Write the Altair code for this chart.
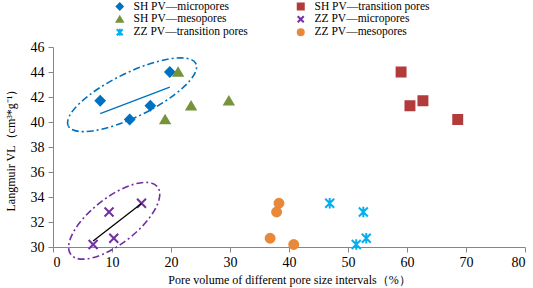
import altair as alt
import pandas as pd

# ---- data ----
series_names = [
    "SH PV—micropores", "SH PV—transition pores",
    "SH PV—mesopores", "ZZ PV—micropores",
    "ZZ PV—transition pores", "ZZ PV—mesopores",
]
series_colors = ["#0070C0", "#B23B3B", "#77933C", "#7030A0", "#00B0F0", "#E8883A"]

sh_y = [44.0, 41.7, 41.3, 40.2]
zz_y = [33.5, 32.8, 30.7, 30.2]

sh_micro_x = [19.8, 8.0, 16.5, 13.0]
sh_trans_x = [59.0, 62.7, 60.5, 68.6]
sh_meso_x = [21.2, 29.8, 23.4, 19.0]
zz_micro_x = [15.0, 9.5, 10.3, 6.8]
zz_trans_x = [46.9, 52.6, 53.1, 51.4]
zz_meso_x = [38.3, 37.9, 36.8, 40.8]

x_ticks = [0, 10, 20, 30, 40, 50, 60, 70, 80]
y_ticks = [30, 32, 34, 36, 38, 40, 42, 44, 46]

# ellipse annotation centres (data units)
blue_ellipse_x = [13.4]
blue_ellipse_y = [42.18]
purple_ellipse_x = [10.37]
purple_ellipse_y = [32.1]

rows = []
for name, xs, ys in [
    (series_names[0], sh_micro_x, sh_y),
    (series_names[1], sh_trans_x, sh_y),
    (series_names[2], sh_meso_x, sh_y),
    (series_names[3], zz_micro_x, zz_y),
    (series_names[4], zz_trans_x, zz_y),
    (series_names[5], zz_meso_x, zz_y),
]:
    for xv, yv in zip(xs, ys):
        rows.append({"series": name, "pv": xv, "vl": yv})
df = pd.DataFrame(rows)

FONT = "Liberation Serif"

xscale = alt.Scale(domain=[0, 80], nice=False, zero=False)
yscale = alt.Scale(domain=[30, 46], nice=False, zero=False)
x_axis = alt.Axis(values=x_ticks, labelOverlap=False, labelFont=FONT,
                  title="Pore volume of different pore size intervals（%）")
y_axis = alt.Axis(values=y_ticks, labelOverlap=False, labelFont=FONT,
                  title="Langmuir VL（cm³*g⁻¹）")


def X():
    return alt.X("pv:Q", scale=xscale, axis=x_axis)


def Y():
    return alt.Y("vl:Q", scale=yscale, axis=y_axis)


x_shape = "M-1,-1L1,1M-1,1L1,-1"
star_shape = "M-1,-1L1,1M-1,1L1,-1M0,-1.15L0,1.15"
shape_of = dict(zip(series_names, ["diamond", "square", "triangle-up", x_shape, star_shape, "circle"]))
color_of = dict(zip(series_names, series_colors))

# legend fills column by column: order so that rows read as in the reference
legend_order = [series_names[i] for i in (0, 2, 4, 1, 3, 5)]
color_scale = alt.Scale(domain=legend_order, range=[color_of[s] for s in legend_order])
shape_scale = alt.Scale(domain=legend_order, range=[shape_of[s] for s in legend_order])

points = alt.Chart(df).mark_point(filled=False, strokeWidth=2, opacity=1, size=80).encode(
    x=X(), y=Y(),
    fill=alt.Fill("series:N", scale=color_scale, legend=alt.Legend(
        title=None, orient="none", legendX=61, legendY=-47, columns=2,
        columnPadding=47, rowPadding=0, clipHeight=12.5, symbolSize=36,
        symbolStrokeWidth=2,
        labelFont=FONT, labelFontSize=11.5, labelColor="black", labelOffset=8,
        padding=0)),
    stroke=alt.Stroke("series:N", scale=color_scale),
    shape=alt.Shape("series:N", scale=shape_scale),
)

blue_trend = alt.Chart(df).transform_filter(
    alt.datum.series == series_names[0]
).transform_regression("pv", "vl").mark_line(color="#0070C0", strokeWidth=1.3).encode(
    x=X(), y=Y())

black_trend = alt.Chart(df).transform_filter(
    alt.datum.series == series_names[3]
).transform_regression("pv", "vl").mark_line(color="black", strokeWidth=1.3).encode(
    x=X(), y=Y())


def ellipse_path(r):
    k = 0.5523
    kr = k * r
    return (f"M-1,0C-1,{-kr:.4f} {-k},{-r:.4f} 0,{-r:.4f}"
            f"C{k},{-r:.4f} 1,{-kr:.4f} 1,0"
            f"C1,{kr:.4f} {k},{r:.4f} 0,{r:.4f}"
            f"C{-k},{r:.4f} -1,{kr:.4f} -1,0Z")


blue_ell = alt.Chart(pd.DataFrame({"pv": blue_ellipse_x, "vl": blue_ellipse_y})).mark_point(
    shape=ellipse_path(22 / 71), size=142 ** 2, angle=334, filled=False,
    color="#0070C0", strokeWidth=1.6, strokeDash=[7, 3, 2, 3], opacity=1
).encode(x=X(), y=Y())

purple_ell = alt.Chart(pd.DataFrame({"pv": purple_ellipse_x, "vl": purple_ellipse_y})).mark_point(
    shape=ellipse_path(23 / 55), size=110 ** 2, angle=322, filled=False,
    color="#7030A0", strokeWidth=1.6, strokeDash=[7, 3, 2, 3], opacity=1
).encode(x=X(), y=Y())

chart = alt.layer(points, blue_ell, purple_ell, blue_trend, black_trend).properties(
    width=472, height=200,
    autosize=alt.AutoSizeParams(type="none"),
    padding={"left": 53, "top": 47, "right": 8, "bottom": 41},
).configure_view(stroke=None).configure_axis(
    grid=False, domainColor="#868686", tickColor="#868686", tickSize=5,
    labelFont=FONT, labelFontSize=14, labelColor="black",
    titleFont=FONT, titleFontSize=12, titleFontWeight="normal", titleColor="black",
).configure_axisX(labelPadding=3, titlePadding=5).configure_axisY(
    labelPadding=4, titlePadding=13)

chart.save("out.html", embed_options={"renderer": "svg", "actions": False})
